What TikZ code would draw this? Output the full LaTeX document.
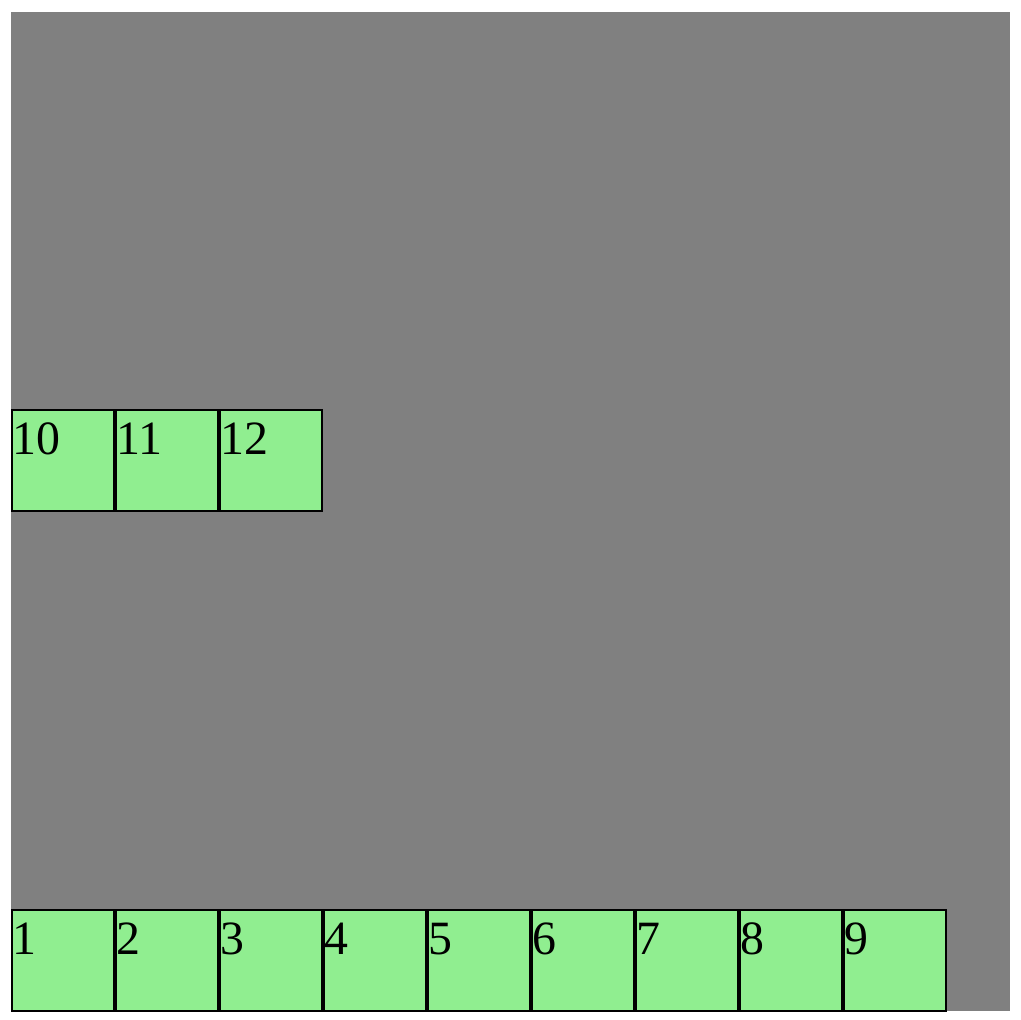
\documentclass[tikz,border=0pt]{standalone}
\usepackage{fontspec}
\setmainfont{Liberation Serif}
\usetikzlibrary{positioning}

\definecolor{boardgray}{HTML}{808080}
\definecolor{cellgreen}{HTML}{90EE90}

\tikzset{
  cell/.style={draw=black, line width=1.1pt, fill=cellgreen, rectangle,
    minimum width=2.56cm, minimum height=2.53cm, inner sep=0pt, anchor=north west},
  num/.style={inner sep=0pt, anchor=base west, font=\fontsize{34}{40}\selectfont}
}

\begin{document}
\begin{tikzpicture}[x=0.025cm, y=-0.025cm]
    \useasboundingbox (0,0) rectangle (1020,1020);

    % Draw board
    \fill[boardgray] (11,12) rectangle (1010,1011);

    % Bottom row
    \foreach \i in {1,...,9} {
      \node[cell] (c\i) at ({11+(\i-1)*104}, 909) {};
      \node[num] (t\i) at ({12+(\i-1)*104}, 954) {\i};
    }

    % Upper row
    \foreach \j/\n in {0/10, 1/11, 2/12} {
      \node[cell] (c\n) at ({11+\j*104}, 409) {};
      \node[num] (t\n) at ({12+\j*104}, 454) {\n};
    }

  \end{tikzpicture}
\end{document}
